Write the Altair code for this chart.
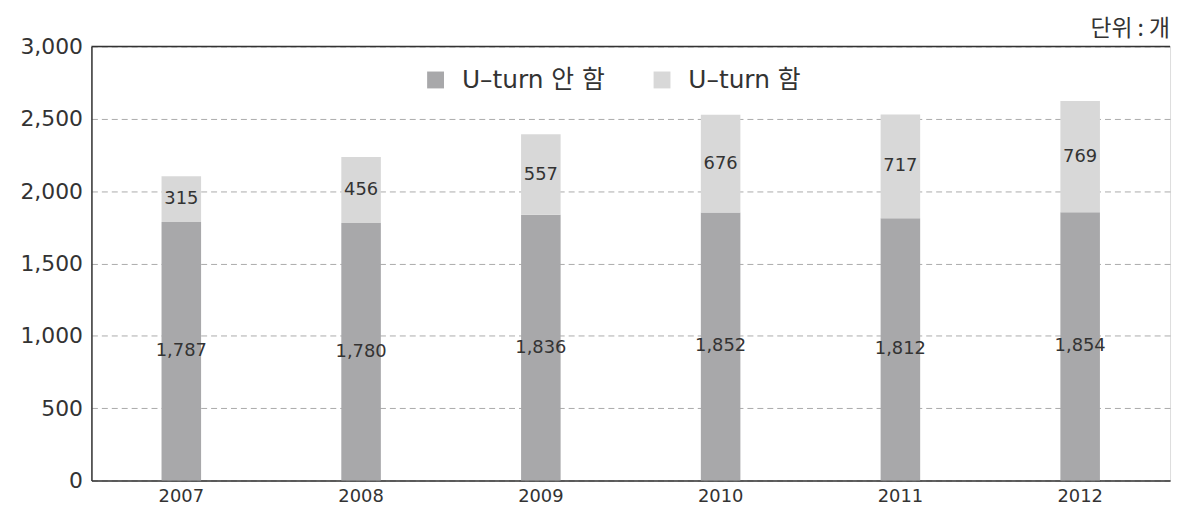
import altair as alt
import pandas as pd

years = ["2007", "2008", "2009", "2010", "2011", "2012"]
no_uturn = [1787, 1780, 1836, 1852, 1812, 1854]
uturn = [315, 456, 557, 676, 717, 769]
series = ["U–turn 안 함", "U–turn 함"]
colors = ["#a8a8aa", "#d8d8d8"]
unit_text = "단위 : 개"
y_ticks = [0, 500, 1000, 1500, 2000, 2500, 3000]

rows = []
for y, a, b in zip(years, no_uturn, uturn):
    rows.append({"year": y, "series": series[0], "value": a, "start": 0, "end": a})
    rows.append({"year": y, "series": series[1], "value": b, "start": a, "end": a + b})
df = pd.DataFrame(rows)
df["mid"] = (df["start"] + df["end"]) / 2
df["label"] = df["value"].map(lambda v: f"{v:,}")

FONT = "DejaVu Sans"
LFONT = "DejaVu Sans, Noto Sans CJK KR"
KFONT = "Noto Sans CJK KR"

x = alt.X("year:N", title=None, sort=years,
          scale=alt.Scale(paddingInner=0.78, paddingOuter=0.39),
          axis=alt.Axis(labelAngle=0, ticks=False, labelFontSize=18, labelColor="#333",
                        labelFont=FONT, labelPadding=7, domainColor="#333", domainWidth=1.5))

yscale = alt.Scale(domain=[0, 3000], nice=False)

bars = alt.Chart(df).mark_bar().encode(
    x=x,
    y=alt.Y("start:Q", title=None, scale=yscale,
            axis=alt.Axis(values=y_ticks, format=",.0f",
                          ticks=False, labelFontSize=22, labelColor="#333", labelFont=FONT,
                          labelPadding=9, grid=True, gridDash=[6, 4], gridColor="#aaaaaa",
                          domainColor="#333", domainWidth=1.5)),
    y2="end:Q",
    color=alt.Color("series:N", scale=alt.Scale(domain=series, range=colors),
                    legend=alt.Legend(title=None, orient="none", legendX=334, legendY=21,
                                      direction="horizontal", symbolType="square",
                                      symbolSize=289, symbolStrokeWidth=0,
                                      labelFontSize=25, labelFont=LFONT, labelColor="#333",
                                      columnPadding=44, labelOffset=14, labelLimit=300)),
)

labels = alt.Chart(df).mark_text(fontSize=18, font=FONT, color="#333").encode(
    x=alt.X("year:N", sort=years),
    y=alt.Y("mid:Q", title=None, scale=yscale),
    text="label:N",
)

top_border = alt.Chart(pd.DataFrame({"v": [3000]})).mark_rule(
    color="#333", strokeWidth=1.5
).encode(y=alt.Y("v:Q", title=None, scale=yscale))

unit = alt.Chart(pd.DataFrame({"t": [unit_text]})).mark_text(
    fontSize=23, font=KFONT, color="#333", align="right", baseline="middle"
).encode(x=alt.value(1086), y=alt.value(-18), text="t:N")

chart = alt.layer(bars, labels, top_border, unit).properties(
    width=1086, height=437,
    autosize=alt.AutoSizeParams(type="none"),
    padding={"left": 84, "top": 37, "right": 6, "bottom": 25},
).configure_view(stroke="#333", strokeWidth=1.5).configure(background="white")

chart.save("out.html", embed_options={"renderer": "svg", "actions": False})
